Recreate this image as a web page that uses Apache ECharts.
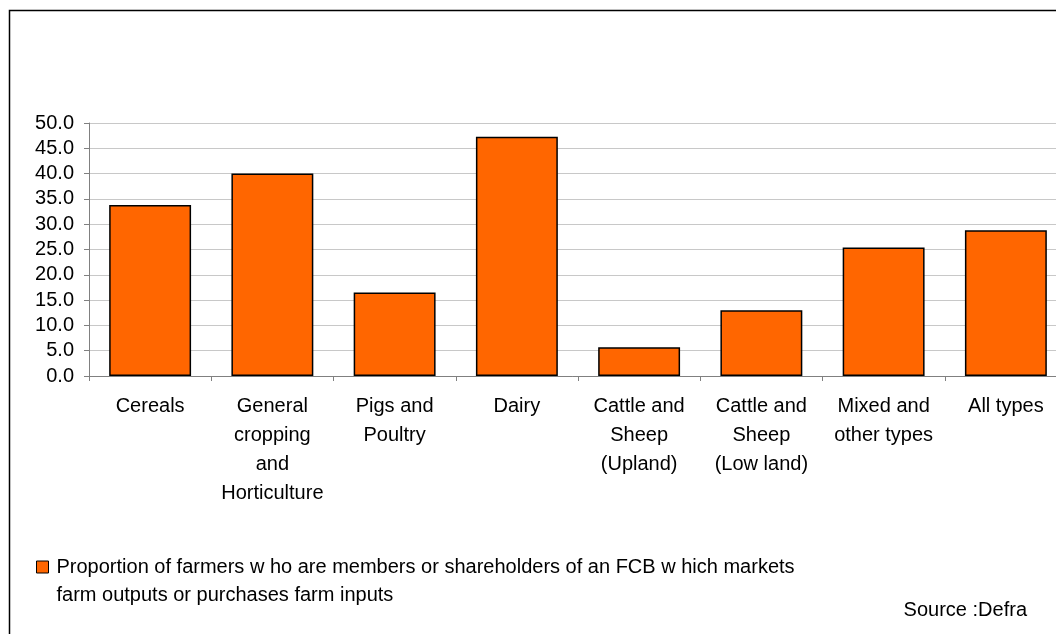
<!DOCTYPE html>
<html>
<head>
<meta charset="utf-8">
<script src="https://cdn.jsdelivr.net/npm/echarts@6/dist/echarts.min.js"></script>
<style>
html,body{margin:0;padding:0;background:#fff;}
#chart{width:1056px;height:634px;}
</style>
</head>
<body>
<div id="chart"></div>
<script>
const categories = ["Cereals", "General\ncropping\nand\nHorticulture", "Pigs and\nPoultry", "Dairy", "Cattle and\nSheep\n(Upland)", "Cattle and\nSheep\n(Low land)", "Mixed and\nother types", "All types"];
const values = [33.8, 40.0, 16.5, 47.3, 5.7, 13.0, 25.4, 28.8];
const seriesName = "Proportion of farmers w ho are members or shareholders of an FCB w hich markets\nfarm outputs or purchases farm inputs";
const sourceText = "Source :Defra";

const FONT = "'Liberation Sans', Arial, sans-serif";
const chart = echarts.init(document.getElementById('chart'), null, {renderer: 'canvas'});
chart.setOption({
  animation: false,
  backgroundColor: '#fff',
  grid: {left: 89, top: 123, width: 978, height: 253, containLabel: false, outerBoundsMode: 'none'},
  xAxis: {
    type: 'category',
    data: categories,
    axisLine: {show: true, lineStyle: {color: '#808080', width: 1}},
    axisTick: {show: true, length: 5, alignWithLabel: false, lineStyle: {color: '#808080'}},
    axisLabel: {interval: 0, color: '#000', fontFamily: FONT, fontSize: 20, lineHeight: 29, margin: 16}
  },
  yAxis: {
    type: 'value',
    min: 0, max: 50, interval: 5,
    axisLine: {show: true, lineStyle: {color: '#808080', width: 1}},
    axisTick: {show: true, length: 5, lineStyle: {color: '#808080'}},
    axisLabel: {color: '#000', fontFamily: FONT, fontSize: 20, margin: 15, formatter: v => v.toFixed(1)},
    splitLine: {show: true, lineStyle: {color: '#c8c8c8', width: 1}}
  },
  legend: {
    left: 36, top: 525, padding: 0,
    icon: 'rect', itemWidth: 12, itemHeight: 12,
    data: [seriesName],
    formatter: name => '\n' + name,
    itemStyle: {borderColor: '#000', borderWidth: 1},
    textStyle: {color: '#000', fontFamily: FONT, fontSize: 20, lineHeight: 28, padding: [0, 0, 0, 3]}
  },
  series: [{
    name: seriesName,
    type: 'bar',
    data: values,
    barCategoryGap: '33%',
    itemStyle: {color: '#FF6600', borderColor: '#000', borderWidth: 1.5}
  }],
  graphic: [
    {type: 'rect', shape: {x: 9.5, y: 10.5, width: 1100, height: 700}, style: {fill: 'none', stroke: '#000', lineWidth: 1.5}, silent: true},
    {type: 'text', right: 29, top: 600, style: {text: sourceText, fill: '#000', font: "20px 'Liberation Sans', Arial, sans-serif"}}
  ]
});
</script>
</body>
</html>
